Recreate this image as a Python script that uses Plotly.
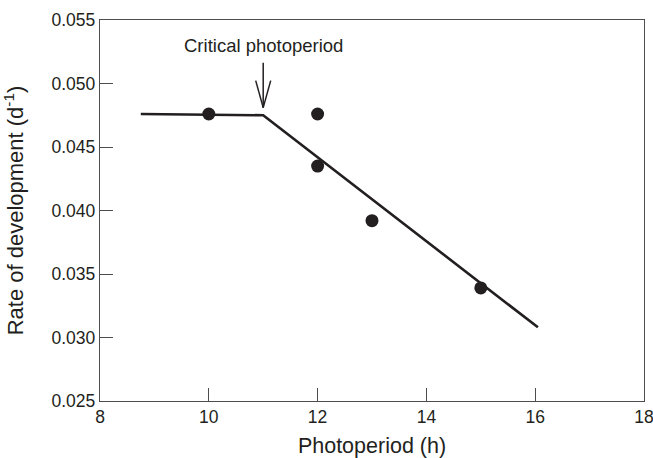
import plotly.graph_objects as go

# Observed data
photoperiod = [10, 12, 12, 13, 15]
dev_rate = [0.0476, 0.0476, 0.0435, 0.0392, 0.0339]

# Fitted broken-stick line
fit_x = [8.75, 11.0, 16.05]
fit_y = [0.0476, 0.0475, 0.0308]

# Critical photoperiod annotation
crit_x = 11.0
arrow_tip_y = 0.0481
label_y = 0.0530
label_text = "Critical photoperiod"

x_ticks = [8, 10, 12, 14, 16, 18]
y_ticks = [0.025, 0.030, 0.035, 0.040, 0.045, 0.050, 0.055]

FONT = "Liberation Sans, Arial, sans-serif"
INK = "#231f20"
FRAME = "#4d4d4d"

fig = go.Figure()
fig.add_trace(go.Scatter(x=fit_x, y=fit_y, mode="lines",
                         line=dict(color=INK, width=2.6), hoverinfo="skip",
                         showlegend=False))
fig.add_trace(go.Scatter(x=photoperiod, y=dev_rate, mode="markers",
                         marker=dict(color=INK, size=13), showlegend=False))

# arrow shaft (pixel offsets above the tip)
fig.add_shape(type="line", xref="x", yref="y",
              xsizemode="pixel", xanchor=crit_x, x0=0, x1=0,
              ysizemode="pixel", yanchor=arrow_tip_y, y0=0, y1=45,
              line=dict(color=INK, width=1.5))
# arrow head (open V) in pixel offsets from the tip
for dx in (-7.5, 7.5):
    fig.add_shape(type="line", xref="x", yref="y",
                  xsizemode="pixel", xanchor=crit_x, x0=dx, x1=0,
                  ysizemode="pixel", yanchor=arrow_tip_y, y0=27, y1=0,
                  line=dict(color=INK, width=1.5))

fig.add_annotation(x=crit_x, y=label_y, text=label_text, showarrow=False,
                   font=dict(family=FONT, size=18.5, color=INK),
                   xanchor="center", yanchor="middle")

axis_common = dict(showline=True, linecolor=FRAME, linewidth=1.4, mirror=True,
                   ticks="inside", ticklen=13, tickwidth=1.3, tickcolor=FRAME,
                   showgrid=False, zeroline=False, automargin=False,
                   ticklabeloverflow="allow",
                   tickfont=dict(family=FONT, size=17.5, color=INK))

fig.update_xaxes(range=[8, 18], tickvals=x_ticks,
                 ticktext=[str(v) for v in x_ticks],
                 title=dict(text="Photoperiod (h)", standoff=13,
                            font=dict(family=FONT, size=21.5, color=INK)),
                 **axis_common)
fig.update_yaxes(range=[0.025, 0.055], tickvals=y_ticks,
                 ticktext=[f"{v:.3f}" for v in y_ticks],
                 title=dict(text="Rate of development (d<sup>-1</sup>)", standoff=23,
                            font=dict(family=FONT, size=22, color=INK)),
                 **axis_common)

fig.update_layout(width=653, height=458, plot_bgcolor="white", paper_bgcolor="white",
                  margin=dict(l=100, r=9, t=20, b=57),
                  font=dict(family=FONT, color=INK))

fig.write_html("out.html", config={"displayModeBar": False},
               post_script="document.body.style.margin='0';document.body.style.overflow='hidden';")
